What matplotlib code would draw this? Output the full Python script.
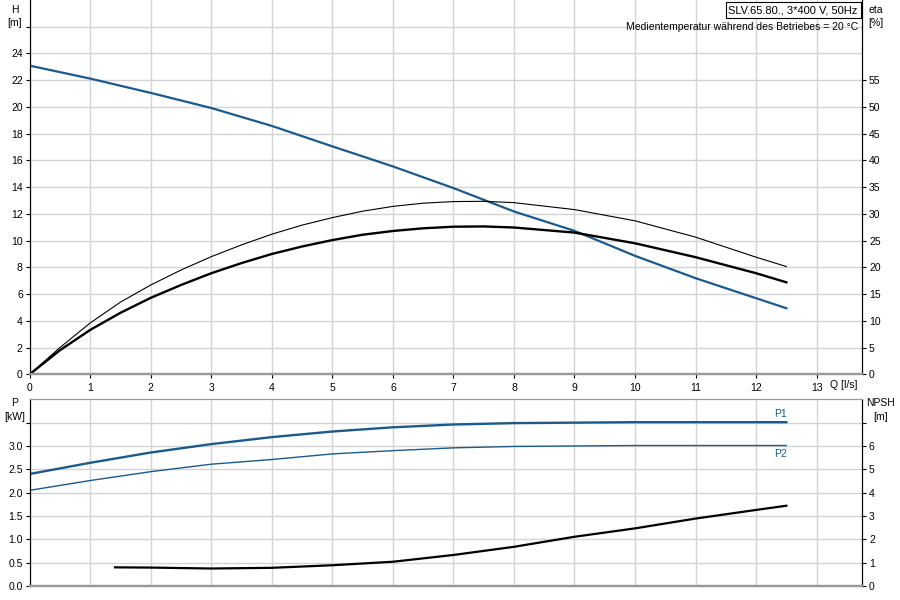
import matplotlib
matplotlib.use("Agg")
import matplotlib.pyplot as plt

plt.rcParams['font.family'] = ['Liberation Sans', 'DejaVu Sans']

# flow Q [l/s]
q = [0, 1, 2, 3, 4, 5, 6, 7, 8, 9, 10, 11, 12, 12.5]

# head H [m]
head = [23.09, 22.12, 21.05, 19.92, 18.58, 17.05, 15.55, 13.93,
        12.18, 10.73, 8.86, 7.19, 5.69, 4.94]

# efficiencies [%] (thin = pump, thick = total), read at finer steps
q_eta = [0, 0.5, 1, 1.5, 2, 2.5, 3, 3.5, 4, 4.5, 5, 5.5, 6, 6.5, 7, 7.5,
         8, 9, 10, 11, 12, 12.5]
eta_pump = [0, 5.0, 9.6, 13.5, 16.7, 19.5, 22.0, 24.2, 26.2, 27.9, 29.3,
            30.5, 31.4, 32.0, 32.3, 32.35, 32.1, 30.8, 28.7, 25.65, 21.9, 20.15]
eta_total = [0, 4.5, 8.3, 11.5, 14.3, 16.7, 18.9, 20.8, 22.5, 23.9, 25.1,
             26.1, 26.8, 27.3, 27.6, 27.65, 27.45, 26.5, 24.5, 21.9, 18.9, 17.2]

# power [kW]
p1 = [2.40, 2.64, 2.86, 3.04, 3.19, 3.31, 3.40, 3.46, 3.49, 3.50,
      3.51, 3.51, 3.51, 3.51]
p2 = [2.05, 2.26, 2.45, 2.61, 2.71, 2.83, 2.90, 2.96, 2.99, 3.00,
      3.01, 3.01, 3.01, 3.01]

# NPSH [m]
q_npsh = [1.41, 2, 3, 4, 5, 6, 7, 8, 9, 10, 11, 12, 12.5]
npsh = [0.80, 0.79, 0.75, 0.78, 0.89, 1.04, 1.33, 1.68, 2.11, 2.47, 2.89,
        3.26, 3.44]

blue = '#1c5a8c'
grid_c = '#d3d3d3'
fs = 7.5

fig = plt.figure(figsize=(9, 6), dpi=100)
ax = fig.add_axes([0.033, 0.3762, 0.9248, 0.6238])
ax2 = ax.twinx()
bx = fig.add_axes([0.033, 0.0233, 0.9248, 0.3112])
bx2 = bx.twinx()

for a in (ax, bx):
    a.set_xlim(0, 13.75)
    a.set_xticks(range(0, 14))
    a.grid(True, color=grid_c, linewidth=1.0)
    a.set_axisbelow(True)

# --- upper chart ---
ax.set_ylim(0, 28)
ax.set_yticks(range(0, 28, 2))
ax.set_yticklabels([str(v) if v <= 24 else '' for v in range(0, 28, 2)])
ax2.set_ylim(0, 70)
ax2.set_yticks(range(0, 60, 5))

ax.plot(q, head, color=blue, linewidth=1.6, zorder=3)
ax2.plot(q_eta, eta_pump, color='black', linewidth=0.8)
ax2.plot(q_eta, eta_total, color='black', linewidth=1.7)

# --- lower chart ---
bx.set_ylim(0, 4.0)
bx.set_yticks([0, 0.5, 1.0, 1.5, 2.0, 2.5, 3.0, 3.5])
bx.set_yticklabels(['0.0', '0.5', '1.0', '1.5', '2.0', '2.5', '3.0', ''])
bx.set_xticklabels([])
bx2.set_ylim(0, 8)
bx2.set_yticks(range(0, 8))
bx2.set_yticklabels([str(v) for v in range(0, 7)] + [''])

bx.plot(q, p1, color=blue, linewidth=1.7, zorder=3)
bx.plot(q, p2, color=blue, linewidth=1.0, zorder=3)
bx2.plot(q_npsh, npsh, color='black', linewidth=1.6)
bx.text(12.4, p1[-1] + 0.07, 'P1', color=blue, fontsize=fs, ha='center', va='bottom')
bx.text(12.4, p2[-1] - 0.08, 'P2', color=blue, fontsize=fs, ha='center', va='top')

# spines and ticks
for a in (ax, ax2, bx, bx2):
    a.tick_params(labelsize=fs, length=3, width=0.8, pad=2, colors='black')
    a.spines['left'].set_color('black')
    a.spines['right'].set_color('black')
    a.spines['bottom'].set_color('#999999')
    a.spines['bottom'].set_linewidth(1.6)
    a.spines['top'].set_color('#999999')
ax.spines['top'].set_visible(False)
ax2.spines['top'].set_visible(False)
ax.tick_params(axis='x', color='black', pad=3)
bx.tick_params(axis='x', length=0)

# axis titles
fig.text(0.016, 0.991, 'H', fontsize=fs, ha='center', va='top')
fig.text(0.016, 0.970, '[m]', fontsize=fs, ha='center', va='top')
fig.text(0.973, 0.991, 'eta', fontsize=fs, ha='center', va='top')
fig.text(0.973, 0.970, '[%]', fontsize=fs, ha='center', va='top')
fig.text(0.016, 0.336, 'P', fontsize=fs, ha='center', va='top')
fig.text(0.016, 0.314, '[kW]', fontsize=fs, ha='center', va='top')
fig.text(0.978, 0.336, 'NPSH', fontsize=fs, ha='center', va='top')
fig.text(0.978, 0.313, '[m]', fontsize=fs, ha='center', va='top')
ax.text(13.45, -0.4, 'Q [l/s]', fontsize=fs, ha='center', va='top')

# info box
ax.text(0.995, 0.986, 'SLV.65.80., 3*400 V, 50Hz', transform=ax.transAxes,
        fontsize=fs + 0.5, ha='right', va='top',
        bbox=dict(boxstyle='square,pad=0.25', facecolor='white',
                  edgecolor='black', linewidth=0.8))
ax.text(0.995, 0.940, 'Medientemperatur während des Betriebes = 20 °C',
        transform=ax.transAxes, fontsize=fs, ha='right', va='top')

fig.savefig('out.png', dpi=100)
